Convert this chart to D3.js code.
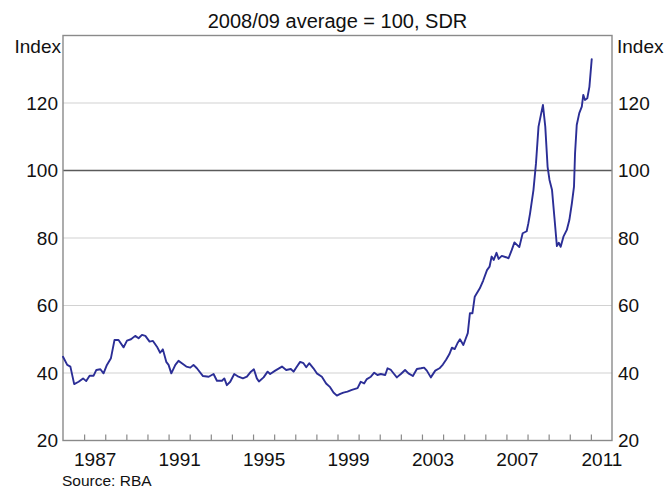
<!DOCTYPE html>
<html>
<head>
<meta charset="utf-8">
<script src="https://cdn.jsdelivr.net/npm/d3@7"></script>
<style>
  body { margin: 0; background: #fff; }
  svg { display: block; font-family: "Liberation Sans", Arial, sans-serif; }
</style>
</head>
<body>
<div id="chart"></div>
<script>
// monthly-ish readings, decimal years
const dates = [
  1986.0, 1986.2, 1986.35, 1986.53, 1986.74, 1986.95, 1987.1, 1987.26, 1987.45, 1987.58,
  1987.77, 1987.92, 1988.08, 1988.27, 1988.44, 1988.63, 1988.87, 1989.03, 1989.22, 1989.42,
  1989.58, 1989.74, 1989.9, 1990.1, 1990.26, 1990.45, 1990.6, 1990.73, 1990.89, 1991.0,
  1991.13, 1991.32, 1991.47, 1991.63, 1991.84, 1992.03, 1992.18, 1992.34, 1992.63, 1992.9,
  1993.13, 1993.29, 1993.53, 1993.64, 1993.76, 1993.92, 1994.11, 1994.31, 1994.52, 1994.71,
  1994.9, 1995.04, 1995.18, 1995.28, 1995.5, 1995.69, 1995.81, 1996.05, 1996.37, 1996.57,
  1996.79, 1996.92, 1997.08, 1997.23, 1997.39, 1997.52, 1997.66, 1997.86, 1998.02, 1998.26,
  1998.46, 1998.65, 1998.81, 1998.97, 1999.13, 1999.28, 1999.47, 1999.68, 1999.95, 2000.1,
  2000.26, 2000.39, 2000.58, 2000.74, 2000.89, 2001.05, 2001.26, 2001.37, 2001.53, 2001.68,
  2001.81, 2002.0, 2002.2, 2002.36, 2002.57, 2002.76, 2002.95, 2003.1, 2003.23, 2003.42,
  2003.63, 2003.83, 2003.99, 2004.15, 2004.3, 2004.42, 2004.55, 2004.68, 2004.8, 2004.96,
  2005.17, 2005.27, 2005.39, 2005.5, 2005.74, 2005.9, 2006.08, 2006.2, 2006.3, 2006.4,
  2006.53, 2006.63, 2006.78, 2006.98, 2007.1, 2007.25, 2007.38, 2007.61, 2007.77, 2007.96,
  2008.04, 2008.12, 2008.28, 2008.4, 2008.52, 2008.63, 2008.73, 2008.84, 2008.95, 2009.04,
  2009.16, 2009.27, 2009.39, 2009.48, 2009.57, 2009.7, 2009.86, 2009.98, 2010.1, 2010.2,
  2010.25, 2010.33, 2010.45, 2010.57, 2010.64, 2010.72, 2010.83, 2010.93, 2011.04
]
const index = [
  44.8, 42.4, 41.9, 36.7, 37.4, 38.4, 37.6, 39.2, 39.2, 40.9,
  41.1, 39.9, 42.4, 44.4, 49.8, 49.8, 47.6, 49.6, 50.0, 51.0,
  50.3, 51.3, 51.0, 49.3, 49.5, 47.8, 46.0, 47.0, 43.3, 42.4,
  39.9, 42.4, 43.6, 42.9, 41.9, 41.6, 42.4, 41.4, 39.1, 38.9,
  39.7, 37.7, 37.7, 38.4, 36.4, 37.4, 39.7, 38.9, 38.4, 38.9,
  40.4, 41.1, 38.4, 37.5, 38.7, 40.4, 39.7, 40.7, 41.9, 40.9,
  41.2, 40.4, 41.9, 43.3, 42.9, 41.7, 42.9, 41.4, 39.9, 38.9,
  36.9, 35.8, 34.2, 33.3, 33.8, 34.2, 34.5, 35.0, 35.5, 37.4,
  36.9, 38.2, 38.9, 40.1, 39.4, 39.7, 39.4, 41.4, 40.9, 39.7,
  38.7, 39.7, 40.9, 39.9, 39.1, 41.2, 41.4, 41.6, 40.7, 38.7,
  40.7, 41.4, 42.5, 44.0, 45.6, 47.5, 47.1, 48.8, 50.0, 48.3,
  51.8, 57.7, 57.7, 62.6, 65.1, 67.4, 70.5, 71.5, 74.5, 73.5,
  75.6, 73.8, 74.7, 74.3, 74.0, 76.4, 78.7, 77.3, 81.4, 82.0,
  84.4, 87.3, 94.2, 102.1, 113.0, 116.4, 119.4, 113.0, 101.1, 97.2,
  94.2, 86.3, 77.6, 78.6, 77.4, 80.4, 82.4, 85.3, 90.3, 95.2,
  105.1, 113.5, 117.0, 118.9, 122.4, 120.9, 121.4, 124.8, 133.0
]
const yTicks = [20, 40, 60, 80, 100, 120]
const yearTicks = d3.range(1987, 2012)
const yearLabels = [1987, 1991, 1995, 1999, 2003, 2007, 2011]

const data = dates.map((d, i) => ({date: d, value: index[i]}))

const width = 668
const height = 491
const margin = ({top: 35.5, right: 56, bottom: 50.5, left: 63})
const lineColor = "#2b2e96"
const frameColor = "#8a8a8a"

const x = d3.scaleLinear()
  .domain([1986, 2012])
  .range([margin.left, width - margin.right])

const y = d3.scaleLinear()
  .domain([20, 140])
  .range([height - margin.bottom, margin.top])

const line = d3.line()
  .x(d => x(d.date))
  .y(d => y(d.value))

const svg = d3.select("#chart").append("svg")
  .attr("width", width)
  .attr("height", height)

// gridlines
svg.append("g")
  .selectAll("line")
  .data(yTicks.filter(v => v !== 20))
  .join("line")
  .attr("x1", margin.left)
  .attr("x2", width - margin.right)
  .attr("y1", d => y(d))
  .attr("y2", d => y(d))
  .attr("stroke", d => d === 100 ? "#5a5a5a" : "#d2d2d2")
  .attr("stroke-width", d => d === 100 ? 1.3 : 1.2)

// bottom ticks (inside)
svg.append("g")
  .attr("transform", `translate(0,${height - margin.bottom})`)
  .call(d3.axisBottom(x).tickValues(yearTicks).tickSize(-6).tickFormat(""))
  .call(g => g.select(".domain").remove())
  .call(g => g.selectAll(".tick line").attr("stroke", frameColor).attr("stroke-width", 1.2))

// year labels at mid-year
svg.append("g")
  .attr("transform", `translate(0,${height - margin.bottom})`)
  .call(d3.axisBottom(x).tickValues(yearLabels.map(v => v + 0.5)).tickSize(0).tickPadding(12)
    .tickFormat(d => Math.floor(d)))
  .call(g => g.select(".domain").remove())
  .call(g => g.selectAll("text").attr("font-size", 19).attr("fill", "#111").attr("font-family", null))

// left and right value labels
svg.append("g")
  .attr("transform", `translate(${margin.left},0)`)
  .call(d3.axisLeft(y).tickValues(yTicks).tickSize(0).tickPadding(5))
  .call(g => g.select(".domain").remove())
  .call(g => g.selectAll("text").attr("font-size", 19).attr("fill", "#111").attr("font-family", null))

svg.append("g")
  .attr("transform", `translate(${width - margin.right},0)`)
  .call(d3.axisRight(y).tickValues(yTicks).tickSize(0).tickPadding(6))
  .call(g => g.select(".domain").remove())
  .call(g => g.selectAll("text").attr("font-size", 19).attr("fill", "#111").attr("font-family", null))

// frame
svg.append("rect")
  .attr("x", margin.left)
  .attr("y", margin.top)
  .attr("width", width - margin.left - margin.right)
  .attr("height", height - margin.top - margin.bottom)
  .attr("fill", "none")
  .attr("stroke", frameColor)
  .attr("stroke-width", 1.4)

// the series
svg.append("path")
  .datum(data)
  .attr("fill", "none")
  .attr("stroke", lineColor)
  .attr("stroke-width", 1.9)
  .attr("stroke-linejoin", "round")
  .attr("stroke-linecap", "round")
  .attr("d", line)

// titles
svg.append("text")
  .attr("x", (margin.left + width - margin.right) / 2)
  .attr("y", 28)
  .attr("text-anchor", "middle")
  .attr("font-size", 20)
  .attr("fill", "#111")
  .text("2008/09 average = 100, SDR")

svg.append("text")
  .attr("x", margin.left - 2)
  .attr("y", 53)
  .attr("text-anchor", "end")
  .attr("font-size", 19)
  .attr("fill", "#111")
  .text("Index")

svg.append("text")
  .attr("x", width - margin.right + 5)
  .attr("y", 53)
  .attr("font-size", 19)
  .attr("fill", "#111")
  .text("Index")

svg.append("text")
  .attr("x", 62)
  .attr("y", 486)
  .attr("font-size", 15.5)
  .attr("fill", "#111")
  .text("Source: RBA")
</script>
</body>
</html>
